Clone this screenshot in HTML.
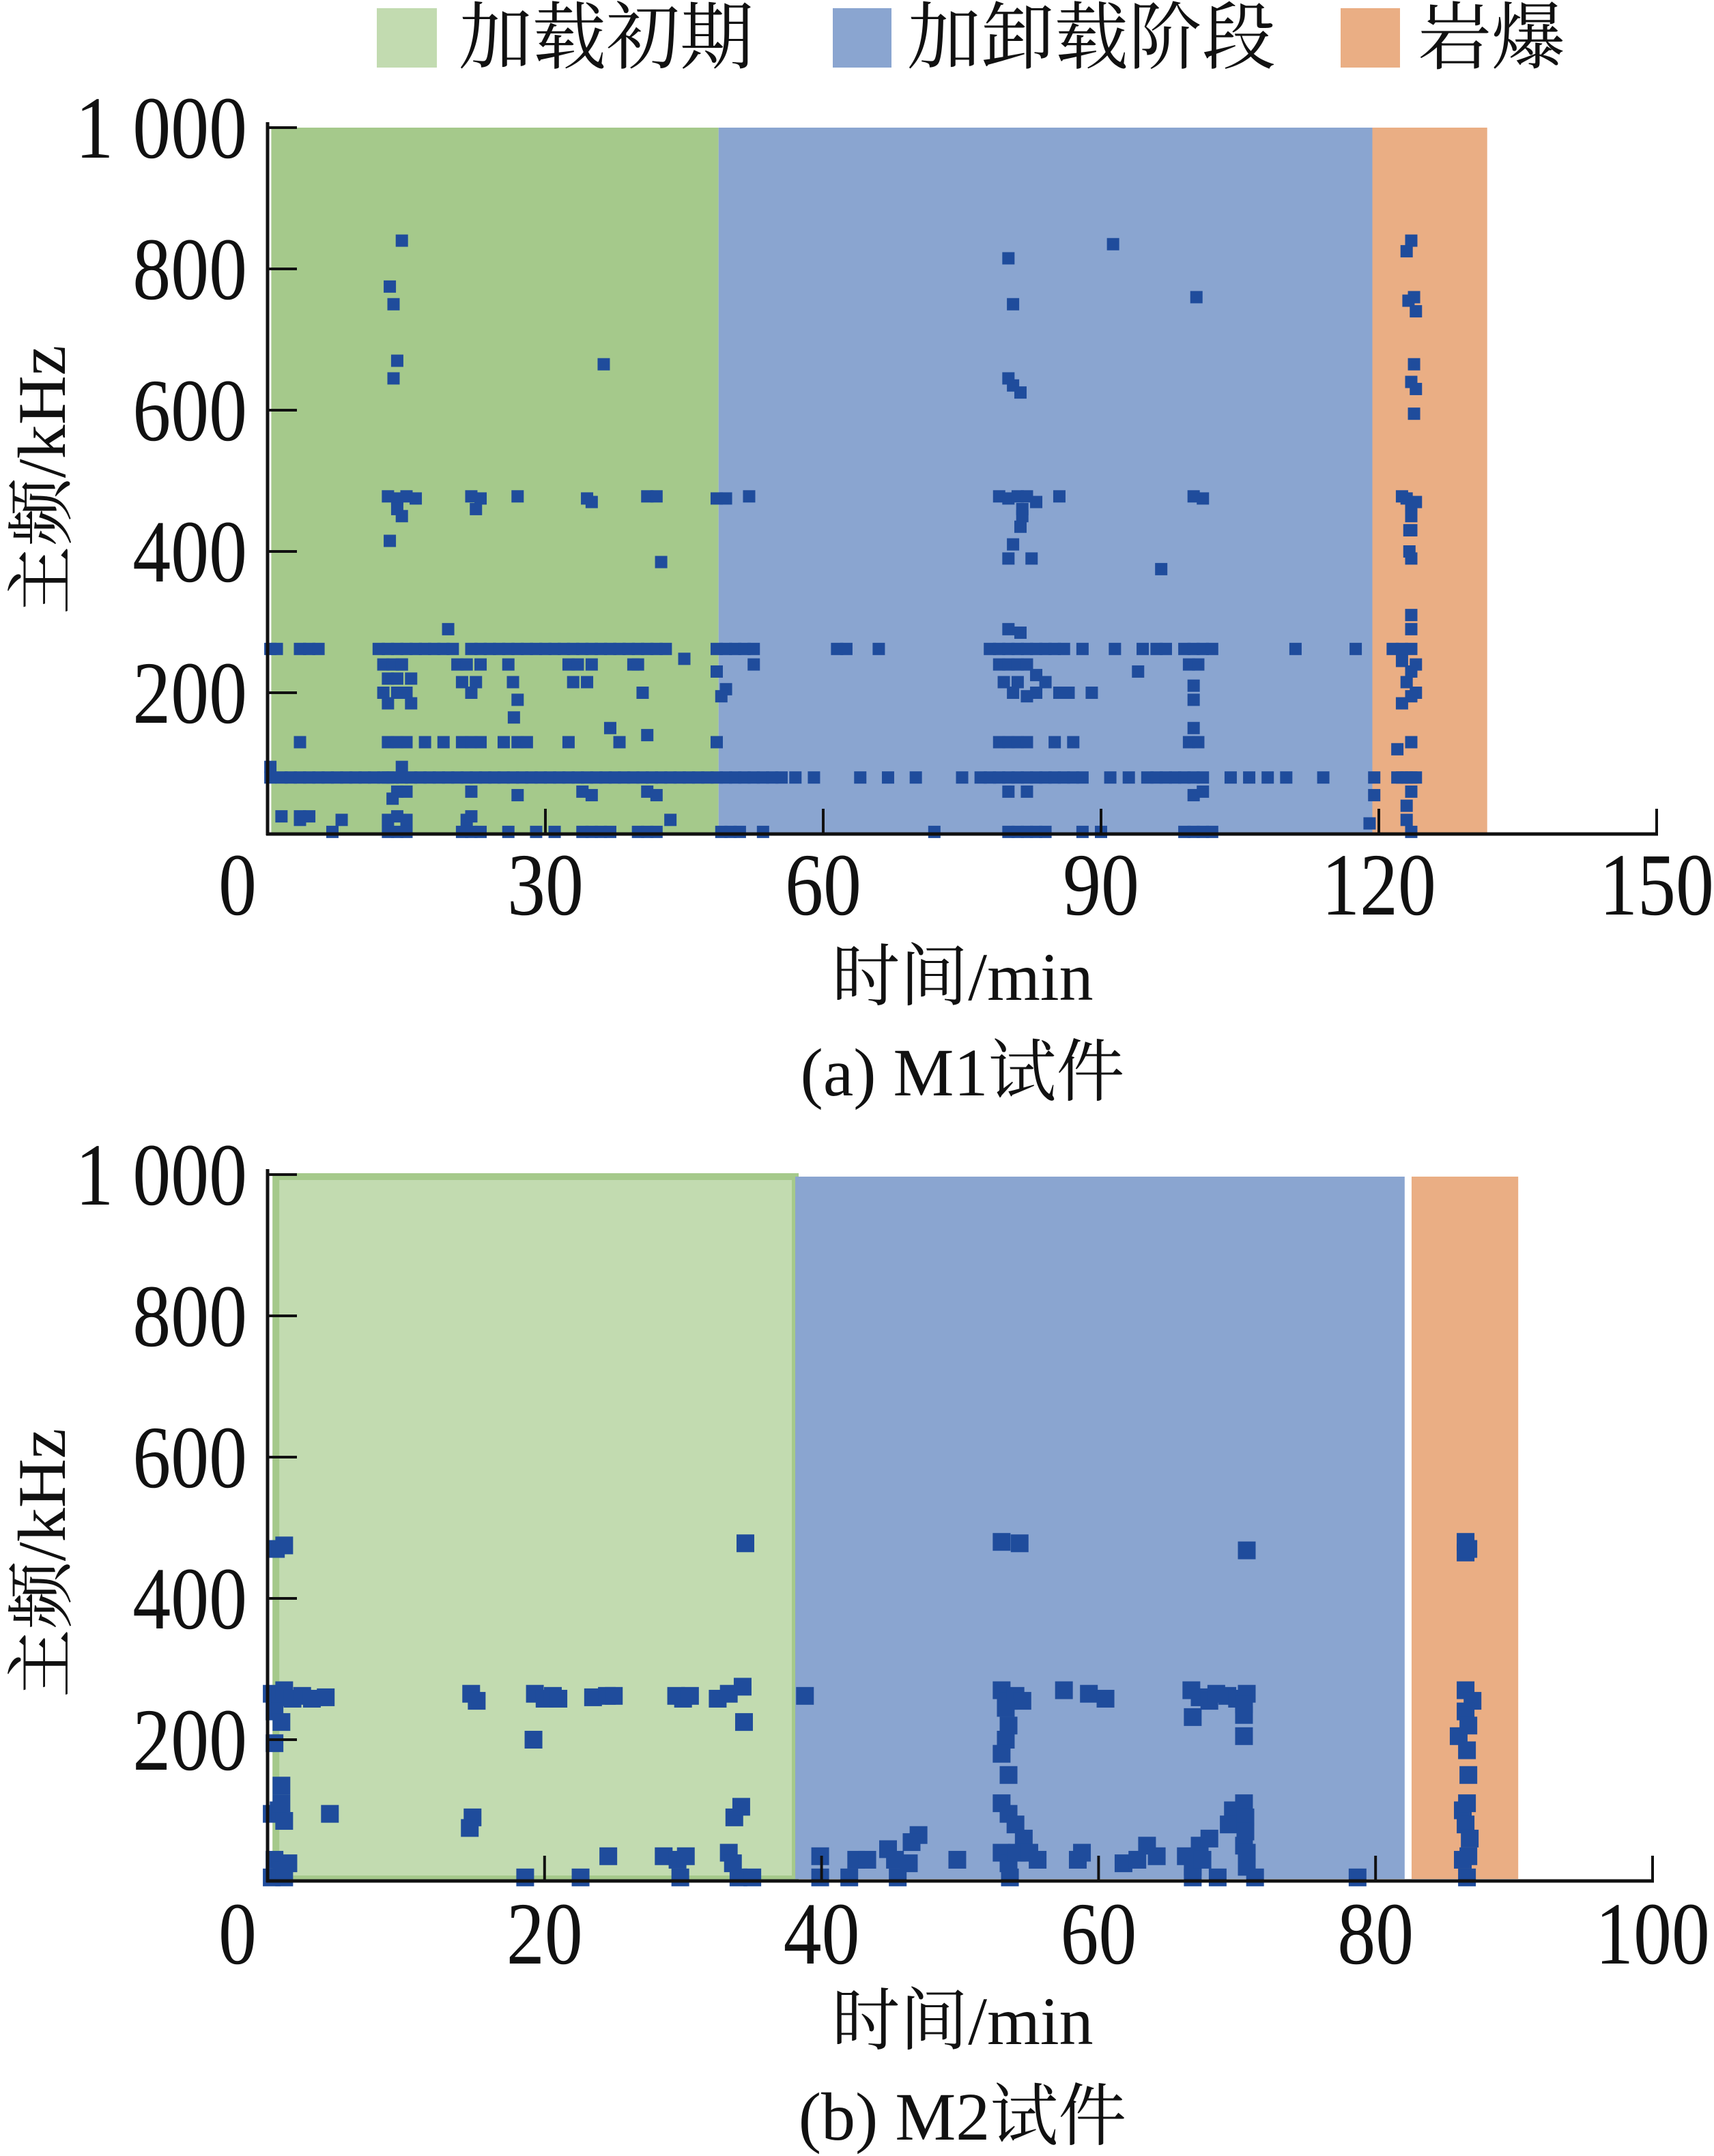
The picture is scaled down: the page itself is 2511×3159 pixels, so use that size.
<!DOCTYPE html>
<html><head><meta charset="utf-8">
<style>
html,body{margin:0;padding:0;background:#fff;}
svg{display:block;}
text{font-family:"Liberation Serif","Noto Serif CJK SC","Noto Sans CJK SC",serif;fill:#111;}
</style></head>
<body>
<svg id="fig" width="2511" height="3159" viewBox="0 0 2511 3159" xmlns="http://www.w3.org/2000/svg">
  <g>
    <rect x="552" y="12" width="88" height="87" fill="#c2dbb0"/>
    <text x="672" y="92" font-size="108">加载初期</text>
    <rect x="1220" y="12" width="86" height="87" fill="#8aa5d0"/>
    <text x="1329" y="92" font-size="108">加卸载阶段</text>
    <rect x="1964" y="12" width="87" height="87" fill="#eaae84"/>
    <text x="2077" y="92" font-size="108">岩爆</text>
  </g>
  <g id="chartA"></g>
  <g id="chartB"></g>
</svg>
<script>
// ---------- Chart A data (M1) ----------
const aXTicks = [0, 30, 60, 90, 120, 150];
const aYTicks = [200, 400, 600, 800, 1000];
const aYTickLabels = ["200", "400", "600", "800", "1 000"];
const aPhaseStarts = [0.4, 48.7, 119.3];
const aPhaseEnds = [48.7, 119.3, 131.7];
const aTimes = [
14.5,13.2,13.6,14,13.6,36.3,80,80.5,91.3,100.3,80,80.5,81.3,123.5,123,123.8,123.2,124,123.8,123.5,124,123.8,13.2,42.5,80.5,80,82.5,96.5,81.5,81.3,123.5,123.3,123.5,19.5,123.5,123.5,81.3,80,
13,14,15,16,14,14.5,22,23,22.5,27,34.5,35,41,42,48.5,49.5,52,79,80,81,82,83,81.5,85.5,100,101,122.5,123,123.5,124,123.5,123.3,
0.3,1,3.5,4.5,5.5,12,13,14,15,16,17,18,19,20,22,23,24,25,26,27,28,29,30,31,32,33,34,35,36,37,38,39,40,41,42,43,45,48.5,49.5,50.5,51.5,52.5,61.5,62.5,66,78,79,80,81,82,83,84,85,86,88,91.5,94.5,96,97,99,100,101,102,111,117.5,121.5,122.5,123.5,124,
12.5,13.5,14.5,15.5,13,14,15,12.5,14,15.5,13,14.5,20.5,21.5,22.5,21,22,23,26.5,27,26,32.5,33.5,34.5,33,35,39.5,40.5,40,48.5,49.5,49,52.5,79,80,81,82,83,84,79.5,81,83,80.5,82,85.5,86.5,89,94,99.5,100.5,100,100,122.5,123.5,123,124,122.5,123.5,
3.5,13,14,15,17,19,21,22,23,25.5,27,28,32.5,37,38,41,48.5,79,80,81,82,85,87,99.5,100,100.5,122,123.5,26.6,
0.3,1.5,2.5,3.5,4.5,5.5,6.5,7.5,8.5,9.5,10.5,11.5,12.5,13.5,14.5,15.5,16.5,17.5,18.5,19.5,20.5,21.5,22.5,23.5,24.5,25.5,26.5,27.5,28.5,29.5,30.5,31.5,32.5,33.5,34.5,35.5,36.5,37.5,38.5,39.5,40.5,41.5,42.5,43.5,44.5,45.5,46.5,47.5,48.5,49.5,50.5,51.5,52.5,53.5,54.5,55.5,57,59,64,67,70,75,77,78,79,80,81,82,83,84,85,86,87,88,91,93,95,96,97,98,99,100,101,104,106,108,110,114,119.5,122,122.5,123,123.5,124,
13,14,15,22,27,34,35,41,42,80,82,100,101,119.5,123,123.5,13.5,14.5,
0.3,1.5,3.5,4.5,8,13,14,15,21.5,22,43.5,119,123,
3.5,7,13,14,15,21,22,23,26,29,31,34,35,36,37,40,41,42,49,50,51,53.5,72,80,81,82,83,84,88,90,99,100,101,102,123.5
];
const aFreqs = [
840,775,750,670,645,665,815,750,835,760,645,635,625,840,825,760,755,740,665,640,630,595,415,385,410,390,390,375,450,435,430,400,390,290,310,290,285,290,
478,475,478,475,460,450,478,475,460,478,475,470,478,478,475,475,478,478,475,478,478,470,460,478,478,475,478,475,465,470,450,430,
262,262,262,262,262,262,262,262,262,262,262,262,262,262,262,262,262,262,262,262,262,262,262,262,262,262,262,262,262,262,262,262,262,262,262,262,248,262,262,262,262,262,262,262,262,262,262,262,262,262,262,262,262,262,262,262,262,262,262,262,262,262,262,262,262,262,262,262,
240,240,240,240,220,220,220,200,200,200,185,185,240,240,240,215,215,200,240,215,190,240,240,240,215,215,240,240,200,240,230,205,195,240,240,240,240,240,225,215,215,215,200,200,195,200,200,200,230,240,240,210,190,245,230,215,200,185,195,
130,130,130,130,130,130,130,130,130,130,130,130,130,150,130,140,130,130,130,130,130,130,130,130,150,130,120,130,165,
80,80,80,80,80,80,80,80,80,80,80,80,80,80,80,80,80,80,80,80,80,80,80,80,80,80,80,80,80,80,80,80,80,80,80,80,80,80,80,80,80,80,80,80,80,80,80,80,80,80,80,80,80,80,80,80,80,80,80,80,80,80,80,80,80,80,80,80,80,80,80,80,80,80,80,80,80,80,80,80,80,80,80,80,80,80,80,80,80,80,80,80,80,80,80,
60,60,60,55,60,55,60,55,60,60,55,60,55,40,60,50,95,95,
25,20,25,20,20,25,20,20,25,20,15,20,25,
3,3,3,3,3,3,3,3,3,3,3,3,3,3,3,3,3,3,3,3,3,3,3,3,3,3,3,3,3,3,3,3,3,3,3
];

// ---------- Chart B data (M2) ----------
const bXTicks = [0, 20, 40, 60, 80, 100];
const bYTicks = [200, 400, 600, 800, 1000];
const bYTickLabels = ["200", "400", "600", "800", "1 000"];
const bPhaseStarts = [0.6, 38.1, 82.6];
const bPhaseEnds = [38.1, 82.1, 90.3];
const bTimes = [
0.6,1.2,34.5,53,54.3,70.7,86.5,86.5,86.7,
0.3,0.8,1.2,1.8,2.5,3.2,4.2,0.5,1,14.7,15.1,19.3,20,20.6,21,23.5,24.5,25,29.5,30,30.5,32.5,33.3,34.3,38.8,53,53.5,54,54.5,53.3,57.5,59.3,60.5,66.7,67.3,68,68.5,69.3,70,70.7,70.5,86.5,87,
0.5,19.2,34.4,53.5,53.3,53,66.8,70.5,70.5,86,86.5,86.7,86.6,
1,53.5,86.7,
0.3,0.8,1.2,1,4.5,14.8,14.6,33.7,34.2,53,53.5,54,54.6,70.5,69.7,69.4,70.6,70.6,86.3,86.6,86.5,86.8,47,46.5,67.3,68,70.5,
0.5,1,1.5,24.6,28.6,29.6,30.2,33.3,33.6,39.9,42.5,43.3,44.8,45.3,46.3,49.8,53,53.5,54.1,55,55.6,58.5,58.8,61.8,62.8,63.5,64.2,66.3,66.8,67.5,70.7,70.7,86.3,86.7,
0.3,1.2,18.6,22.6,29.8,34,35,39.9,42,45.5,53.6,66.8,68.6,71.3,78.7,86.6
];
const bFreqs = [
470,475,478,480,478,468,480,465,470,
265,260,270,258,262,258,260,240,225,265,255,265,258,262,258,260,262,262,262,258,262,258,265,275,262,270,255,262,255,245,270,265,258,270,260,255,265,262,258,265,250,270,255,
195,200,225,220,200,180,232,235,205,205,240,220,185,
135,150,150,
95,100,85,110,95,90,75,90,105,110,95,80,60,110,100,80,90,70,100,110,80,60,65,55,50,60,50,
30,15,25,35,35,30,35,40,25,35,30,30,45,30,25,30,40,25,40,40,30,30,40,25,30,50,35,35,20,30,40,20,30,35,
5,5,5,5,5,5,5,5,5,5,5,5,5,5,5,5
];

const NS = "http://www.w3.org/2000/svg";
function mk(tag, attrs, parent) {
  const el = document.createElementNS(NS, tag);
  for (const k in attrs) el.setAttribute(k, attrs[k]);
  parent.appendChild(el);
  return el;
}

function drawChart(g, cfg) {
  const xS = v => cfg.x0 + (v - 0) / cfg.xMax * (cfg.x1 - cfg.x0);
  const yS = v => cfg.y0 - v / 1000 * (cfg.y0 - cfg.y1);
  const phaseColors = cfg.phaseColors;
  const phaseNames = ["phase-initial-loading", "phase-load-unload", "phase-rockburst"];
  for (let i = 0; i < cfg.starts.length; i++) {
    const r = mk("rect", {x: xS(cfg.starts[i]), y: cfg.bandTop, width: xS(cfg.ends[i]) - xS(cfg.starts[i]), height: cfg.bandBottom - cfg.bandTop, fill: phaseColors[i]}, g);
    if (i === 0 && cfg.greenStroke) { r.setAttribute("stroke", cfg.greenStroke); r.setAttribute("stroke-width", "10"); }
    
    
  }
  const s = cfg.marker;
  for (let i = 0; i < cfg.times.length; i++) {
    const p = mk("rect", {x: xS(cfg.times[i]) - s / 2, y: yS(cfg.freqs[i]) - s / 2, width: s, height: s, fill: "#1f4c9c"}, g);
    
    
  }
  const ya = mk("line", {x1: cfg.x0, y1: cfg.y1 - 8, x2: cfg.x0, y2: cfg.y0 + 2, stroke: "#111", "stroke-width": 5}, g);
  
  
  const xa = mk("line", {x1: cfg.x0 - 2, y1: cfg.y0, x2: cfg.x1 + 2, y2: cfg.y0, stroke: "#111", "stroke-width": 5}, g);
  
  
  for (let i = 0; i < cfg.xTicks.length; i++) {
    const xv = xS(cfg.xTicks[i]);
    if (i > 0) {
      const t = mk("line", {x1: xv, y1: cfg.y0, x2: xv, y2: cfg.y0 - 37, stroke: "#111", "stroke-width": 4}, g);
      
      
    }
    const lx = xv - (i === 0 ? 44 : 0);
    const lb = mk("text", {x: 0, y: 0, "font-size": 130, "text-anchor": "middle", transform: "translate(" + lx + "," + cfg.xLabelY + ") scale(0.86,1)"}, g);
    lb.textContent = String(cfg.xTicks[i]);
    
    
  }
  for (let i = 0; i < cfg.yTicks.length; i++) {
    const yv = yS(cfg.yTicks[i]);
    const t = mk("line", {x1: cfg.x0, y1: yv, x2: cfg.x0 + 43, y2: yv, stroke: "#111", "stroke-width": 4}, g);
    
    
    const lb = mk("text", {x: 0, y: 0, "font-size": 130, "text-anchor": "end", transform: "translate(362," + (yv + 44) + ") scale(0.86,1)"}, g);
    lb.textContent = cfg.yLabels[i];
    
    
  }
  const yt = mk("text", {x: 0, y: 0, "font-size": 100, "text-anchor": "middle", transform: "translate(95," + cfg.yTitleY + ") rotate(-90)"}, g);
  yt.textContent = "主频/kHz";
  
  
  const xt = mk("text", {x: 1410, y: cfg.xTitleY, "font-size": 100, "text-anchor": "middle"}, g);
  xt.textContent = "时间/min";
  
  
  const cp = mk("text", {x: 1410, y: cfg.captionY, "font-size": 100, "text-anchor": "middle"}, g);
  cp.textContent = cfg.caption;
  
  
}

drawChart(document.getElementById("chartA"), {
  x0: 392, x1: 2427, xMax: 150, y0: 1222, y1: 187, bandTop: 187, bandBottom: 1220,
  starts: aPhaseStarts, ends: aPhaseEnds, phaseColors: ["#a5c98b", "#8aa5d0", "#eaae84"],
  times: aTimes, freqs: aFreqs, marker: 18, xTicks: aXTicks, yTicks: aYTicks, yLabels: aYTickLabels,
  xLabelY: 1340, yTitleY: 703, xTitleY: 1465, captionY: 1605, caption: "(a)  M1试件"
});
drawChart(document.getElementById("chartB"), {
  x0: 392, x1: 2421, xMax: 100, y0: 2756, y1: 1721, bandTop: 1724, bandBottom: 2753,
  starts: bPhaseStarts, ends: bPhaseEnds, phaseColors: ["#c2dbb0", "#8aa5d0", "#eaae84"], greenStroke: "#a5c98b",
  times: bTimes, freqs: bFreqs, marker: 26, xTicks: bXTicks, yTicks: bYTicks, yLabels: bYTickLabels,
  xLabelY: 2877, yTitleY: 2290, xTitleY: 2995, captionY: 3135, caption: "(b)  M2试件"
});
</script>
</body></html>
